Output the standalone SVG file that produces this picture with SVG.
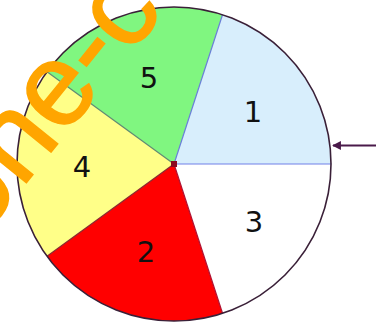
<svg xmlns="http://www.w3.org/2000/svg" width="378" height="322" viewBox="0 0 378 322">
  <defs>
    <style>
      .lbl { font-family: "DejaVu Sans", "Liberation Sans", sans-serif; font-size: 29px; fill: #111; text-anchor: middle; }
      .wm { font-family: "Liberation Sans", Arial, sans-serif; font-size: 118px; fill: #ffa500; stroke: #ffa500; stroke-width: 1.5px; }
    </style>
    <marker id="ah" viewBox="0 0 10 10" refX="9" refY="5" markerWidth="4.5" markerHeight="4" orient="auto">
      <path d="M0,0 L10,5 L0,10 Z" fill="#4a1a4a"/>
    </marker>
  </defs>
  <rect width="378" height="322" fill="#ffffff"/>

  <g id="sector-1">
    <path d="M174,164 L331,164 A157,157 0 0 0 222.5,14.7 Z" fill="#d8eefc"/>
    <text class="lbl" x="253" y="122">1</text>
  </g>
  <g id="sector-5">
    <path d="M174,164 L222.5,14.7 A157,157 0 0 0 47,71.7 Z" fill="#80f680"/>
    <text class="lbl" x="149" y="88">5</text>
  </g>
  <g id="sector-4">
    <path d="M174,164 L47,71.7 A157,157 0 0 0 47,256.3 Z" fill="#ffff88"/>
    <text class="lbl" x="82" y="177">4</text>
  </g>
  <g id="sector-2">
    <path d="M174,164 L47,256.3 A157,157 0 0 0 222.5,313.3 Z" fill="#ff0000"/>
    <text class="lbl" x="146" y="262">2</text>
  </g>
  <g id="sector-3">
    <path d="M174,164 L222.5,313.3 A157,157 0 0 0 331,164 Z" fill="#ffffff"/>
    <text class="lbl" x="254" y="232">3</text>
  </g>

  <g id="dividers" stroke-width="1.2" fill="none">
    <line x1="174" y1="164" x2="331" y2="164" stroke="#7080e8"/>
    <line x1="174" y1="164" x2="222.5" y2="14.7" stroke="#6a80d8"/>
    <line x1="174" y1="164" x2="47" y2="71.7" stroke="#5f8a72"/>
    <line x1="174" y1="164" x2="47" y2="256.3" stroke="#8a2a30"/>
    <line x1="174" y1="164" x2="222.5" y2="313.3" stroke="#b01030"/>
  </g>
  <circle id="rim" cx="174" cy="164" r="157" fill="none" stroke="#3a2038" stroke-width="1.6"/>
  <rect id="hub" x="171" y="161" width="6" height="6" fill="#8b0a20"/>

  <g id="connectors">
    <line x1="376" y1="145.5" x2="333" y2="145.5" stroke="#4a1a4a" stroke-width="2.2" marker-end="url(#ah)"/>
  </g>

  <text class="wm" transform="translate(-20,240) rotate(-51)">one-c</text>
</svg>
